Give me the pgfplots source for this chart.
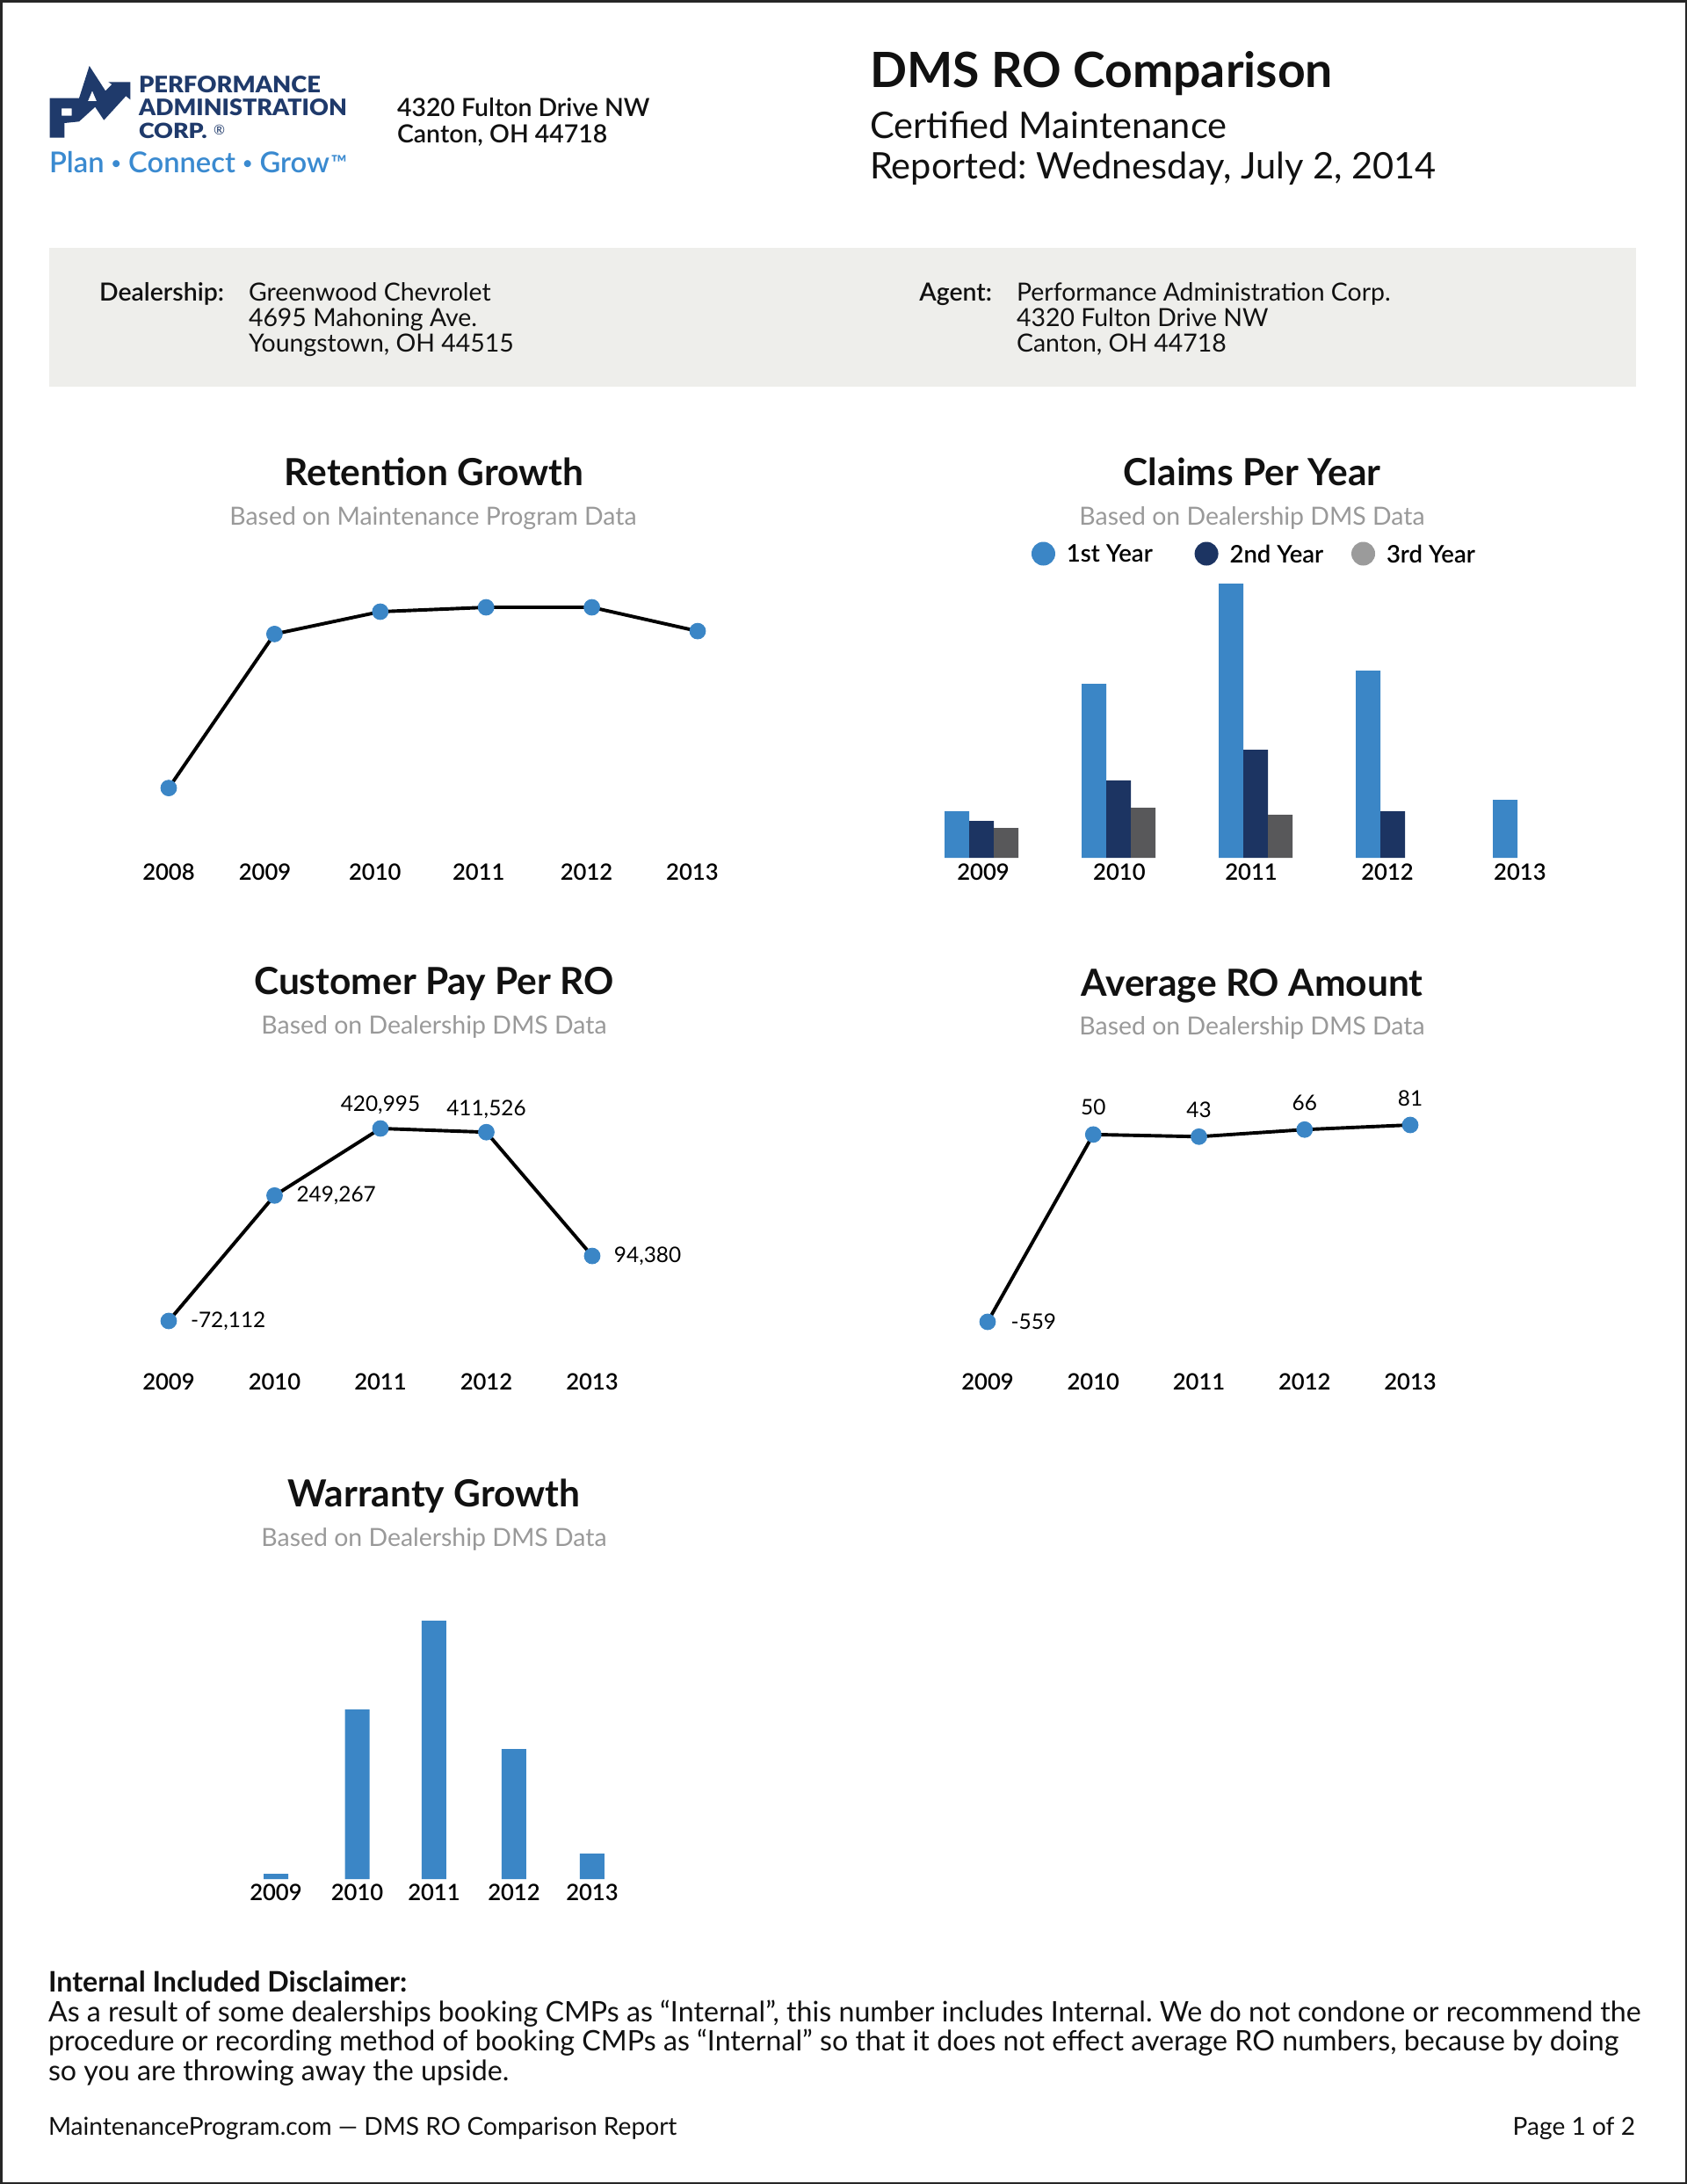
\documentclass[border=0pt]{standalone}
\usepackage{pgfplots}
\pgfplotsset{compat=1.18}
\usepackage{fontspec}
\setmainfont{Lato}
\IfFontExistsTF{Lato Semibold}{\newfontfamily\semi{Lato Semibold}}{\newcommand\semi{\bfseries}}
\IfFontExistsTF{Lato Black}{\newfontfamily\heavy{Lato Black}}{\newcommand\heavy{\bfseries}}
\newcommand\fs[1]{\fontsize{#1}{#1}\selectfont}
\frenchspacing
\definecolor{cblue}{HTML}{3B86C6}
\definecolor{cnavy}{HTML}{1C3462}
\definecolor{cgrayL}{HTML}{9B9B9B}
\definecolor{cgrayB}{HTML}{58585A}
\definecolor{csub}{HTML}{999999}
\definecolor{cbox}{HTML}{EEEEEB}
\definecolor{clogo}{HTML}{1F3A6B}
\definecolor{ctag}{HTML}{3A8AD0}
\definecolor{ctext}{HTML}{111111}

\pgfplotsset{
  pagechart/.style={
    scale only axis, clip=false, anchor=south west,
    axis lines*=left, axis line style={draw=none},
    major tick length=0pt, tick style={draw=none},
    ytick=\empty,
    x tick label style={font=\fs{8.2}\semi, anchor=center, text=black, inner sep=0pt},
    /pgf/number format/assume math mode=true,
  },
  linechart/.style={black, line width=1.25pt, mark=*, mark size=2.85pt, mark options={draw=cblue, fill=cblue, line width=0.3pt}},
}

\begin{document}
\begin{tikzpicture}
\useasboundingbox (0,0) rectangle (614.4pt,-795.2pt);
\begin{scope}[x=0.32pt,y=0.32pt, every node/.style={inner sep=0pt, outer sep=0pt, text=ctext}]
  % page frame
  \draw[line width=0.8pt, black!85] (1.3,-1.3) rectangle (1918.7,-2483.7);
  % logo mark
  \fill[clogo, even odd rule] (56.7,-156.7) -- (56.7,-111.7) -- (90,-111.7) -- (101.7,-75) -- (120,-103.3) -- (127.3,-96) -- (123.3,-93.3) -- (148.3,-93.3) -- (148.3,-113.3) -- (143.3,-109.3) -- (118.3,-136.7) -- (108.3,-121.7) -- (90,-138.3) -- (73.3,-140) -- (73.3,-156.7) -- cycle
     (70,-123.3) rectangle (81.7,-131.7)
     (105,-103.3) -- (100,-115) -- (110,-115) -- cycle;
  \node[anchor=base west] at (158,-105) {\resizebox{66.2pt}{6.08pt}{\heavy\color{clogo}PERFORMANCE}};
  \node[anchor=base west] at (158,-131) {\resizebox{75.8pt}{6.08pt}{\heavy\color{clogo}ADMINISTRATION}};
  \node[anchor=base west] at (158,-157) {\resizebox{24.9pt}{5.6pt}{\heavy\color{clogo}CORP.}};
  \node[anchor=center] at (249.5,-147.5) {\fs{5}\color{clogo}®};
  \node[anchor=base west] at (56,-196) {\resizebox{108.5pt}{!}{\semi\color{ctag}Plan \raisebox{0.12em}{\scalebox{0.6}{•}} Connect \raisebox{0.12em}{\scalebox{0.6}{•}} Grow\kern0.05em\raisebox{0.05em}{\scalebox{0.75}{™}}}};
  % address
  \node[anchor=base west] at (452,-132) {\fs{9.1}\semi 4320 Fulton Drive NW};
  \node[anchor=base west] at (452,-162) {\fs{9.1}\semi Canton, OH 44718};
  % header right
  \node[anchor=base west] at (990,-99) {\fs{17.7}\bfseries DMS RO Comparison};
  \node[anchor=base west] at (990,-157) {\fs{13.3}Certified Maintenance};
  \node[anchor=base west] at (990,-203) {\fs{13.3}Reported: Wednesday, July 2, 2014};
  % info box
  \fill[cbox] (56,-282) rectangle (1862,-440);
  \node[anchor=base east] at (255,-342) {\fs{9.1}\semi Dealership:};
  \node[anchor=base west] at (283,-342) {\fs{9.1}Greenwood Chevrolet};
  \node[anchor=base west] at (283,-371) {\fs{9.1}4695 Mahoning Ave.};
  \node[anchor=base west] at (283,-400) {\fs{9.1}Youngstown, OH 44515};
  \node[anchor=base east] at (1129,-342) {\fs{9.1}\semi Agent:};
  \node[anchor=base west] at (1157,-342) {\fs{9.1}Performance Administration Corp.};
  \node[anchor=base west] at (1157,-371) {\fs{9.1}4320 Fulton Drive NW};
  \node[anchor=base west] at (1157,-400) {\fs{9.1}Canton, OH 44718};
  % chart titles
  \node[anchor=base] at (494,-552) {\fs{13.6}\bfseries Retention Growth};
  \node[anchor=base] at (493,-597) {\fs{9.1}\color{csub}Based on Maintenance Program Data};
  \node[anchor=base] at (1425,-552) {\fs{13.6}\bfseries Claims Per Year};
  \node[anchor=base] at (1425,-597) {\fs{9.1}\color{csub}Based on Dealership DMS Data};
  \node[anchor=base] at (494,-1131) {\fs{13.6}\bfseries Customer Pay Per RO};
  \node[anchor=base] at (494,-1176) {\fs{9.1}\color{csub}Based on Dealership DMS Data};
  \node[anchor=base] at (1425,-1133) {\fs{13.6}\bfseries Average RO Amount};
  \node[anchor=base] at (1425,-1177) {\fs{9.1}\color{csub}Based on Dealership DMS Data};
  \node[anchor=base] at (494,-1714) {\fs{13.6}\bfseries Warranty Growth};
  \node[anchor=base] at (494,-1759) {\fs{9.1}\color{csub}Based on Dealership DMS Data};
  % disclaimer
  \node[anchor=base west] at (55,-2266) {\fs{10.3}\bfseries Internal Included Disclaimer:};
  \node[anchor=base west] at (55,-2300) {\fs{10.3}As a result of some dealerships booking CMPs as “Internal”, this number includes Internal. We do not condone or recommend the};
  \node[anchor=base west] at (55,-2333.5) {\fs{10.3}procedure or recording method of booking CMPs as “Internal” so that it does not effect average RO numbers, because by doing};
  \node[anchor=base west] at (55,-2367) {\fs{10.3}so you are throwing away the upside.};
  \node[anchor=base west] at (55,-2429) {\fs{9}MaintenanceProgram.com — DMS RO Comparison Report};
  \node[anchor=base east] at (1861,-2429) {\fs{9}Page 1 of 2};
\end{scope}

% Retention Growth
\begin{axis}[pagechart, at={(61.44pt,-317.12pt)}, width=192.64pt, height=105.6pt,
  xmin=2008, xmax=2013, ymin=0, ymax=100,
  xtick={2008,2008.91,2009.95,2010.93,2011.95,2012.95},
  xticklabels={2008,2009,2010,2011,2012,2013},
  x tick label style={yshift=-0.32pt}]
\addplot[linechart] coordinates {(2008,28.6) (2009,81.7) (2010,89.4) (2011,90.9) (2012,90.9) (2013,82.7)};
\end{axis}

% Claims Per Year
\begin{axis}[pagechart, at={(357.44pt,-312.32pt)}, width=199.68pt, height=102.4pt,
  xmin=0, xmax=4, ymin=0, ymax=320,
  xtick={0.013,1.006,1.968,2.962,3.929},
  xticklabels={2009,2010,2011,2012,2013},
  x tick label style={yshift=-5.12pt},
  legend columns=3,
  legend cell align=left,
  legend style={at={(0.0913,1.08125)}, anchor=west, draw=none, fill=none,
    inner sep=0pt, outer sep=0pt, column sep=0pt, row sep=0pt,
    font=\fs{8.8}\semi, nodes={inner sep=0pt, text depth=0pt}, cells={anchor=west}}]
\addplot[ybar, bar width=8.96pt, bar shift=-8.96pt, fill=cblue, draw=none,
  legend image code/.code={\fill[cblue] (4.32pt,0pt) circle (4.32pt); \path (0pt,0pt) (12.8pt,0pt);}]
  coordinates {(0,53) (1,198) (2,312) (3,213) (4,66)};
\addlegendentry{\makebox[46.6pt][l]{1st Year}}
\addplot[ybar, bar width=8.96pt, bar shift=0pt, fill=cnavy, draw=none,
  legend image code/.code={\fill[cnavy] (4.32pt,0pt) circle (4.32pt); \path (0pt,0pt) (12.8pt,0pt);}]
  coordinates {(0,42) (1,88) (2,123) (3,53)};
\addlegendentry{\makebox[44.3pt][l]{2nd Year}}
\addplot[ybar, bar width=8.96pt, bar shift=8.96pt, fill=cgrayB, draw=none,
  legend image code/.code={\fill[cgrayL] (4.32pt,0pt) circle (4.32pt); \path (0pt,0pt) (12.8pt,0pt);}]
  coordinates {(0,34) (1,57) (2,49)};
\addlegendentry{3rd Year}
\end{axis}

% Customer Pay Per RO
\begin{axis}[pagechart, at={(61.44pt,-480.96pt)}, width=154.24pt, height=70.08pt,
  xmin=2009, xmax=2013, ymin=-72112, ymax=420995,
  xtick={2009,2010,2011,2012,2013}, xticklabels={2009,2010,2011,2012,2013},
  x tick label style={yshift=-22.08pt}]
\addplot[linechart] coordinates {(2009,-72112) (2010,249267) (2011,420995) (2012,411526) (2013,94380)};
\addplot[draw=none, nodes near coords={\pgfplotspointmeta}, point meta=explicit symbolic,
  nodes near coords style={anchor=west, xshift=7.8pt, font=\fs{7.8}, text=black, inner sep=0pt}]
  coordinates {(2009,-72112) [-72,112] (2010,249267) [249,267] (2013,94380) [94,380]};
\addplot[draw=none, nodes near coords={\pgfplotspointmeta}, point meta=explicit symbolic,
  nodes near coords style={anchor=base, yshift=6.1pt, font=\fs{7.8}, text=black, inner sep=0pt}]
  coordinates {(2011,420995) [420,995] (2012,411526) [411,526]};
\end{axis}

% Average RO Amount
\begin{axis}[pagechart, at={(359.68pt,-481.28pt)}, width=153.92pt, height=71.68pt,
  xmin=2009, xmax=2013, ymin=-559, ymax=81,
  xtick={2009,2010,2011,2012,2013}, xticklabels={2009,2010,2011,2012,2013},
  x tick label style={yshift=-21.76pt}]
\addplot[linechart] coordinates {(2009,-559) (2010,50) (2011,43) (2012,66) (2013,81)};
\addplot[draw=none, nodes near coords={\pgfplotspointmeta}, point meta=explicit symbolic,
  nodes near coords style={anchor=west, xshift=8.3pt, font=\fs{7.8}, text=black, inner sep=0pt}]
  coordinates {(2009,-559) [-559]};
\addplot[draw=none, nodes near coords={\pgfplotspointmeta}, point meta=explicit symbolic,
  nodes near coords style={anchor=base, yshift=7pt, font=\fs{7.8}, text=black, inner sep=0pt}]
  coordinates {(2010,50) [50] (2011,43) [43] (2012,66) [66] (2013,81) [81]};
\end{axis}

% Warranty Growth
\begin{axis}[pagechart, at={(100.48pt,-684.16pt)}, width=115.2pt, height=96pt,
  xmin=0, xmax=4, ymin=0, ymax=300,
  xtick={0,1.028,2,3.011,4}, xticklabels={2009,2010,2011,2012,2013},
  x tick label style={yshift=-4.8pt}]
\addplot[ybar, bar width=8.96pt, bar shift=0pt, fill=cblue, draw=none]
  coordinates {(0,6) (1.028,193) (2,294) (3.011,148) (4,29)};
\end{axis}
\end{tikzpicture}
\end{document}
